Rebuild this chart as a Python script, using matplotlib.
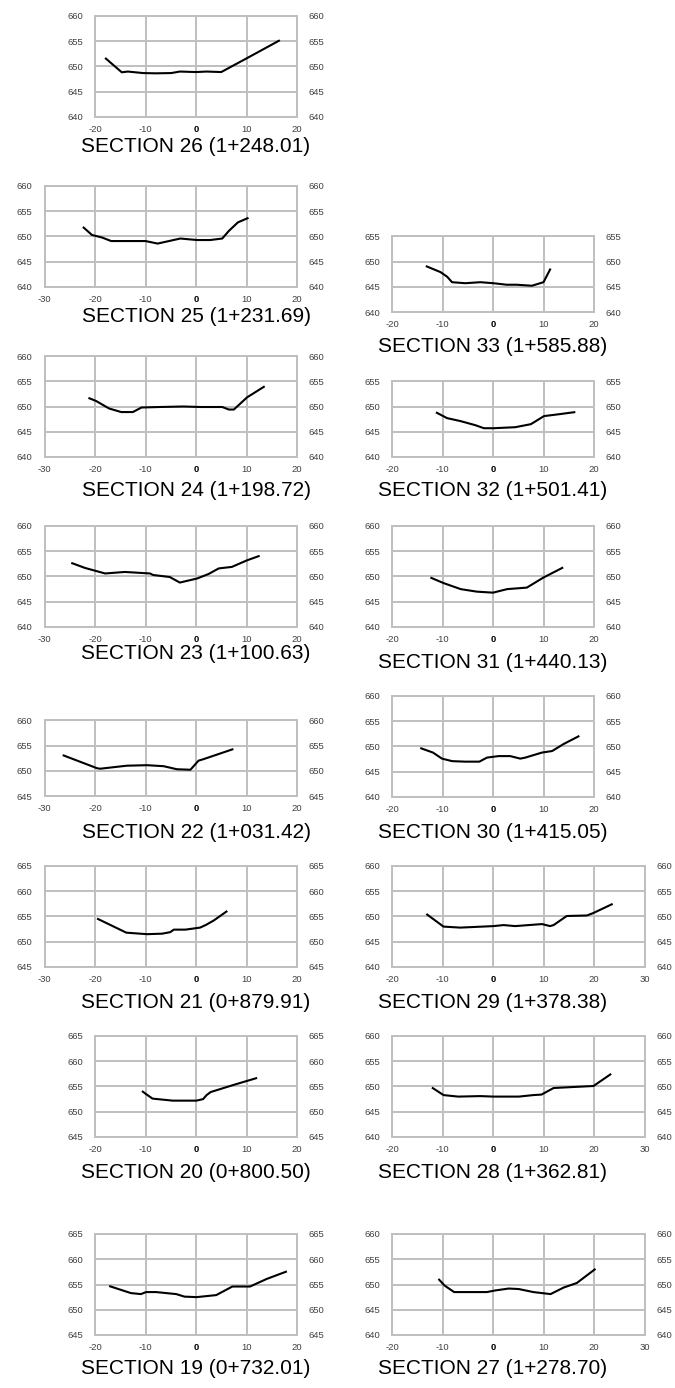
import matplotlib
matplotlib.use("Agg")
import matplotlib.pyplot as plt

plt.rcParams["font.family"] = ["Liberation Sans", "DejaVu Sans"]

# ------------------------------------------------------------------
# ground profiles: offset (m) vs elevation (m)
# ------------------------------------------------------------------
s26_x = [-18.0, -14.7, -13.5, -10.5, -7.9, -4.9, -3.2, 0.0, 2.1, 5.0, 7.4, 10.0, 16.6]
s26_y = [651.7, 648.85, 649.0, 648.7, 648.65, 648.7, 649.0, 648.9, 649.0, 648.9, 650.2, 651.6, 655.2]

s25_x = [-22.4, -20.6, -18.6, -16.8, -10.0, -7.6, -3.1, 0.2, 2.8, 5.2, 6.5, 8.3, 10.4]
s25_y = [651.9, 650.3, 649.8, 649.1, 649.1, 648.6, 649.6, 649.3, 649.3, 649.6, 651.1, 652.8, 653.7]

s24_x = [-21.3, -19.8, -17.2, -14.8, -12.5, -10.8, -7.2, -2.5, 0.9, 5.2, 6.5, 7.5, 10.1, 13.6]
s24_y = [651.7, 651.1, 649.6, 648.9, 648.9, 649.8, 649.9, 650.0, 649.9, 649.9, 649.4, 649.4, 651.8, 654.0]

s23_x = [-24.7, -22.0, -18.0, -14.1, -9.1, -8.5, -5.2, -3.2, 0.2, 2.5, 4.5, 7.1, 10.1, 12.6]
s23_y = [652.7, 651.7, 650.6, 650.9, 650.6, 650.3, 649.9, 648.8, 649.6, 650.5, 651.6, 651.9, 653.2, 654.1]

s22_x = [-26.4, -19.6, -19.0, -13.7, -9.7, -6.4, -3.8, -1.1, 0.5, 1.5, 7.4]
s22_y = [653.1, 650.5, 650.4, 651.0, 651.1, 650.9, 650.3, 650.2, 652.0, 652.3, 654.3]

s21_x = [-19.6, -13.8, -9.7, -6.7, -5.1, -4.4, -2.1, 0.8, 1.9, 3.5, 6.2]
s21_y = [654.6, 651.8, 651.5, 651.6, 651.9, 652.4, 652.4, 652.8, 653.3, 654.2, 656.1]

s20_x = [-10.7, -9.9, -8.6, -4.6, 0.1, 1.4, 2.1, 2.9, 7.4, 12.1]
s20_y = [654.1, 653.5, 652.6, 652.2, 652.2, 652.5, 653.3, 653.9, 655.3, 656.7]

s19_x = [-17.2, -12.9, -10.9, -9.9, -7.9, -3.9, -2.3, 0.1, 4.0, 7.2, 10.7, 14.0, 18.0]
s19_y = [654.7, 653.3, 653.1, 653.5, 653.5, 653.1, 652.6, 652.5, 652.9, 654.6, 654.6, 656.1, 657.6]

s33_x = [-13.3, -10.4, -9.1, -8.1, -5.5, -2.5, 0.1, 2.7, 4.7, 7.7, 10.0, 11.4]
s33_y = [649.1, 647.9, 647.0, 645.9, 645.7, 645.9, 645.7, 645.4, 645.4, 645.2, 645.9, 648.6]

s32_x = [-11.3, -9.1, -6.4, -3.5, -1.8, 0.1, 4.4, 7.5, 10.1, 13.3, 16.3]
s32_y = [648.85, 647.7, 647.1, 646.3, 645.7, 645.7, 645.9, 646.5, 648.1, 648.5, 648.9]

s31_x = [-12.4, -9.8, -6.4, -3.2, 0.0, 2.8, 6.7, 10.0, 13.9]
s31_y = [649.8, 648.7, 647.5, 647.0, 646.8, 647.5, 647.8, 649.8, 651.8]

s30_x = [-14.4, -11.9, -10.1, -8.1, -5.5, -2.7, -1.2, 1.1, 3.4, 5.4, 6.4, 9.7, 11.7, 14.0, 17.1]
s30_y = [649.7, 648.8, 647.6, 647.1, 647.0, 647.0, 647.8, 648.1, 648.1, 647.6, 647.8, 648.8, 649.1, 650.5, 652.1]

s29_x = [-13.2, -9.8, -6.5, 0.1, 2.1, 4.4, 9.7, 11.3, 12.0, 14.6, 18.6, 19.9, 23.7]
s29_y = [650.5, 648.0, 647.8, 648.1, 648.3, 648.1, 648.5, 648.1, 648.3, 650.1, 650.2, 650.7, 652.5]

s28_x = [-12.1, -9.8, -6.9, -2.5, 0.1, 5.1, 8.0, 9.6, 12.0, 15.9, 19.9, 23.4]
s28_y = [649.8, 648.3, 648.0, 648.1, 648.0, 648.0, 648.3, 648.4, 649.7, 649.9, 650.1, 652.5]

s27_x = [-10.8, -9.6, -7.7, -3.8, -1.2, 0.3, 3.1, 5.1, 8.0, 11.4, 14.0, 16.6, 20.3]
s27_y = [651.1, 649.8, 648.5, 648.5, 648.5, 648.8, 649.2, 649.1, 648.5, 648.1, 649.4, 650.3, 653.1]

titles = ["SECTION 26 (1+248.01)", "SECTION 25 (1+231.69)", "SECTION 24 (1+198.72)",
          "SECTION 23 (1+100.63)", "SECTION 22 (1+031.42)", "SECTION 21 (0+879.91)",
          "SECTION 20 (0+800.50)", "SECTION 19 (0+732.01)",
          "SECTION 33 (1+585.88)", "SECTION 32 (1+501.41)", "SECTION 31 (1+440.13)",
          "SECTION 30 (1+415.05)", "SECTION 29 (1+378.38)", "SECTION 28 (1+362.81)",
          "SECTION 27 (1+278.70)"]
profiles = [(s26_x, s26_y), (s25_x, s25_y), (s24_x, s24_y), (s23_x, s23_y),
            (s22_x, s22_y), (s21_x, s21_y), (s20_x, s20_y), (s19_x, s19_y),
            (s33_x, s33_y), (s32_x, s32_y), (s31_x, s31_y), (s30_x, s30_y),
            (s29_x, s29_y), (s28_x, s28_y), (s27_x, s27_y)]
xlims = [(-20, 20), (-30, 20), (-30, 20), (-30, 20), (-30, 20), (-30, 20), (-20, 20), (-20, 20),
         (-20, 20), (-20, 20), (-20, 20), (-20, 20), (-20, 30), (-20, 30), (-20, 30)]
ylims = [(640, 660), (640, 660), (640, 660), (640, 660), (645, 660), (645, 665), (645, 665), (645, 665),
         (640, 655), (640, 655), (640, 660), (640, 660), (640, 660), (640, 660), (640, 660)]

# ------------------------------------------------------------------
# layout (pixels): column x=0 anchor, axes bottom, title centre
# ------------------------------------------------------------------
W, H = 675, 1388
PX = 5.05
col_x0 = [196] * 8 + [493] * 7
bottoms = [117, 287, 457, 627, 796, 967, 1137, 1335,
           312, 457, 627, 797, 967, 1137, 1335]
title_y = [147, 316, 490, 654, 832, 1002, 1172, 1368,
           346, 490, 662, 832, 1002, 1172, 1368]

GRID = "#BFBFBF"
fig = plt.figure(figsize=(W / 100, H / 100), dpi=100)

for i, (xs, ys) in enumerate(profiles):
    x0, x1 = xlims[i]
    y0, y1 = ylims[i]
    left = col_x0[i] + x0 * PX
    width = (x1 - x0) * PX
    height = (y1 - y0) * PX
    ax = fig.add_axes([left / W, 1 - bottoms[i] / H, width / W, height / H])
    ax.plot(xs, ys, color="black", lw=1.5, zorder=3, solid_capstyle="butt")
    ax.set_xlim(x0, x1)
    ax.set_ylim(y0, y1)

    xt = list(range(x0, x1 + 1, 10))
    yt = list(range(y0, y1 + 1, 5))
    ax.set_xticks(xt, [str(t) for t in xt])
    ax.set_yticks(yt, [str(t) for t in yt])
    ax.grid(True, color=GRID, lw=1.4, zorder=1)
    ax.set_axisbelow(True)
    for sp in ax.spines.values():
        sp.set_color(GRID)
        sp.set_linewidth(1.4)
    ax.tick_params(length=0, labelsize=6.8, labelcolor="#404040")
    ax.tick_params(axis="x", pad=5.5)
    ax.tick_params(axis="y", pad=8.5, labelright=True)
    for lab in ax.get_xticklabels():
        if lab.get_text() == "0":
            lab.set_fontweight("bold")
            lab.set_color("black")

    fig.text(col_x0[i] / W, 1 - title_y[i] / H, titles[i], ha="center", va="center",
             fontsize=15, color="black")

fig.savefig("out.png", dpi=100)
